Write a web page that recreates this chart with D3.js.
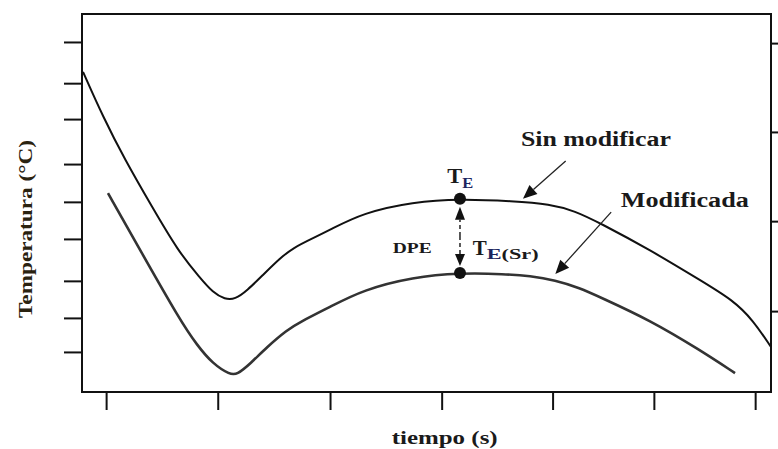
<!DOCTYPE html>
<html>
<head>
<meta charset="utf-8">
<script src="https://cdn.jsdelivr.net/npm/d3@7"></script>
<style>
  body { margin: 0; background: #fff; }
  svg { display: block; }
  text { font-family: "Liberation Serif", "Times New Roman", serif; font-weight: bold; fill: #1a1a1a; }
</style>
</head>
<body>
<svg width="778" height="449"></svg>
<script>
// tiempo (s) for each curve, temperatures (arbitrary units 0-100)
var tSin = [0.15, 3.05, 6.24, 10.16, 13.93, 17.13, 19.01, 20.75, 22.21, 23.95, 26.28, 28.74, 30.62, 33.53, 35.99, 40.78, 48.04, 54.86, 62.55, 67.92, 71.55, 75.18, 82.44, 89.7, 94.49, 97.39, 100];
var sinModificar = [84.7, 72.8, 61.4, 49.0, 37.3, 30.2, 26.3, 24.5, 24.5, 26.8, 31.0, 35.4, 38.1, 40.7, 42.9, 47.4, 50.3, 51.1, 50.5, 49.7, 47.9, 44.7, 37.6, 29.6, 24.3, 19.0, 11.9];

var tMod = [3.77, 8.42, 14.22, 16.69, 19.01, 21.48, 22.5, 24.38, 26.85, 29.75, 31.64, 35.99, 40.78, 48.04, 54.86, 61.39, 65.02, 68.65, 72.28, 75.18, 82.44, 89.7, 94.78];
var modificada = [52.6, 37.6, 19.0, 12.4, 7.4, 4.6, 4.6, 7.4, 11.9, 16.4, 18.5, 22.5, 27.0, 30.4, 31.5, 31.2, 30.7, 29.6, 27.5, 25.1, 19.0, 11.1, 5.0];

// tick positions (no tick labels in the figure)
var xTicks = [3.5, 19.7, 36.0, 52.2, 68.3, 83.0, 97.7];
var yTicksLeft = [92.6, 81.7, 72.2, 60.3, 50.3, 40.5, 29.4, 19.6, 10.6];
var yTicksRight = [92.3, 68.8, 45.2, 21.4];

// T_E point and DPE
var tE = 54.86, TE = 51.1, TESr = 31.5;

var svg = d3.select("svg"),
    margin = {top: 14, right: 7, bottom: 57, left: 82},
    width = +svg.attr("width") - margin.left - margin.right,
    height = +svg.attr("height") - margin.top - margin.bottom;

var x = d3.scaleLinear().domain([0, 100]).range([0, width]),
    y = d3.scaleLinear().domain([0, 100]).range([height, 0]);

var g = svg.append("g").attr("transform", "translate(" + margin.left + "," + margin.top + ")");

function styleAxis(sel) {
  sel.select(".domain").remove();
  sel.selectAll("line").attr("stroke", "#111").attr("stroke-width", 2);
}

g.append("g").attr("transform", "translate(0," + height + ")")
  .call(d3.axisBottom(x).tickValues(xTicks).tickSize(18).tickFormat(""))
  .call(styleAxis);
g.append("g")
  .call(d3.axisLeft(y).tickValues(yTicksLeft).tickSize(18).tickFormat(""))
  .call(styleAxis);
g.append("g").attr("transform", "translate(" + width + ",0)")
  .call(d3.axisRight(y).tickValues(yTicksRight).tickSize(10).tickFormat(""))
  .call(styleAxis);

g.append("rect").attr("width", width).attr("height", height)
  .attr("fill", "none").attr("stroke", "#111").attr("stroke-width", 2);

var line = d3.line()
  .x(function(d) { return x(d[0]); })
  .y(function(d) { return y(d[1]); })
  .curve(d3.curveBasis);

g.append("path").datum(d3.zip(tSin, sinModificar))
  .attr("d", line).attr("fill", "none").attr("stroke", "#111").attr("stroke-width", 2);
g.append("path").datum(d3.zip(tMod, modificada))
  .attr("d", line).attr("fill", "none").attr("stroke", "#333").attr("stroke-width", 2.6);

// arrow helper: line from (x1,y1) to tip (x2,y2) with filled head
function arrow(x1, y1, x2, y2, head, w, dash, sw) {
  var dx = x2 - x1, dy = y2 - y1, len = Math.sqrt(dx * dx + dy * dy);
  var ux = dx / len, uy = dy / len;
  var bx = x2 - ux * head, by = y2 - uy * head;
  g.append("line").attr("x1", x1).attr("y1", y1).attr("x2", bx).attr("y2", by)
    .attr("stroke", "#222").attr("stroke-width", sw).attr("stroke-dasharray", dash);
  g.append("path")
    .attr("d", "M" + x2 + "," + y2 + "L" + (bx - uy * w) + "," + (by + ux * w) + "L" + (bx + uy * w) + "," + (by - ux * w) + "Z")
    .attr("fill", "#111");
}

// DPE dashed double arrow
var midY = (y(TE) + y(TESr)) / 2;
arrow(x(tE), midY, x(tE), y(TE) + 8, 13, 5, "4,3", 1.5);
arrow(x(tE), midY, x(tE), y(TESr) - 7, 12, 5, "4,3", 1.5);

g.selectAll(".pt").data([TE, TESr]).enter().append("circle")
  .attr("class", "pt").attr("cx", x(tE)).attr("cy", function(d) { return y(d); })
  .attr("r", 6).attr("fill", "#111");

// curve labels and pointers
arrow(x(70.2), y(61.1), x(64.0), y(51.1), 14, 6, null, 1.3);
arrow(x(76.8), y(47.6), x(68.7), y(31.2), 14, 6, null, 1.3);

function label(tx, v, s, size, len) {
  return g.append("text").attr("x", x(tx)).attr("y", y(v))
    .attr("font-size", size).attr("textLength", len).attr("lengthAdjust", "spacingAndGlyphs")
    .text(s);
}
label(63.7, 65.1, "Sin modificar", 20, 150);
label(78.2, 49.0, "Modificada", 20, 128);
label(45.1, 36.8, "DPE", 15, 39);

label(53.0, 55.3, "T", 22, 15);
g.append("text").attr("x", x(53.0) + 15).attr("y", y(55.3) + 5).attr("font-size", 15)
  .attr("textLength", 11).attr("lengthAdjust", "spacingAndGlyphs")
  .style("fill", "#1c2560").text("E");
label(56.7, 36.2, "T", 21, 14);
var sub = g.append("text").attr("x", x(56.7) + 14).attr("y", y(36.2) + 4).attr("font-size", 15)
  .attr("textLength", 52).attr("lengthAdjust", "spacingAndGlyphs");
sub.append("tspan").style("fill", "#1c2560").text("E");
sub.append("tspan").text("(Sr)");

// axis titles
svg.append("text").attr("x", margin.left + x(52.2) + 3).attr("y", 444)
  .attr("text-anchor", "middle").attr("font-size", 19)
  .attr("textLength", 106).attr("lengthAdjust", "spacingAndGlyphs").text("tiempo (s)");
svg.append("text").attr("transform", "translate(32," + 229 + ") rotate(-90)")
  .attr("text-anchor", "middle").attr("font-size", 19).style("fill", "#2a2210")
  .attr("textLength", 178).attr("lengthAdjust", "spacingAndGlyphs").text("Temperatura (\u00b0C)");
</script>
</body>
</html>
